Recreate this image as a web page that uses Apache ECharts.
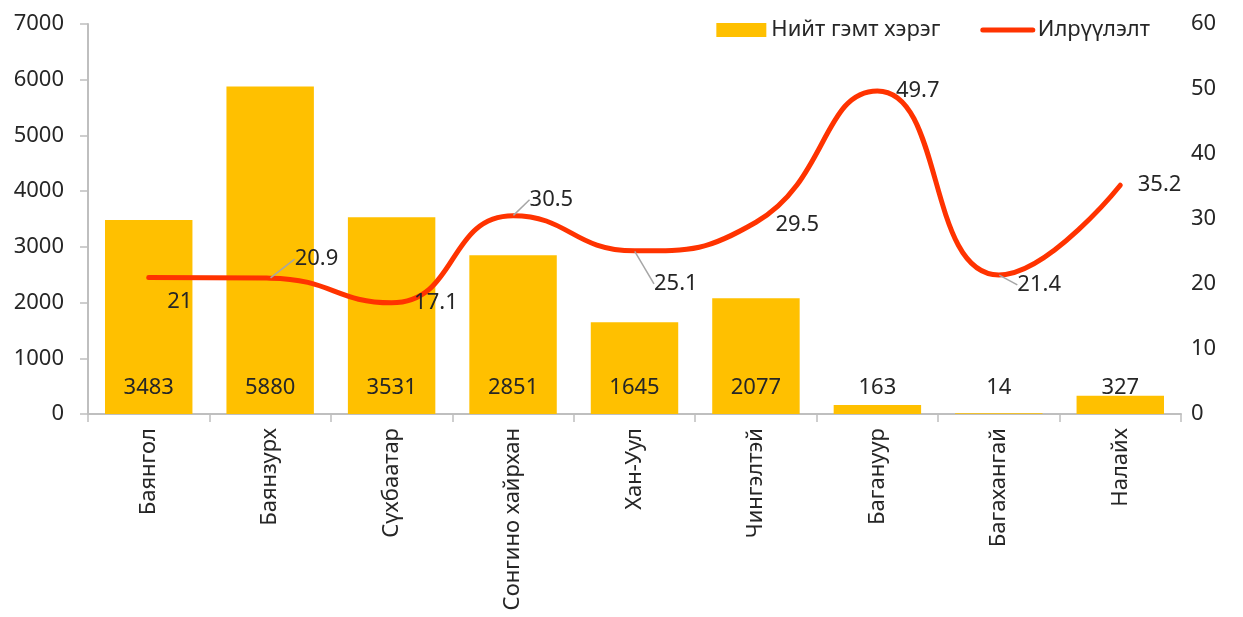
<!DOCTYPE html>
<html>
<head>
<meta charset="utf-8">
<script src="https://cdn.jsdelivr.net/npm/echarts@6/dist/echarts.min.js"></script>
<style>
  html, body { margin: 0; padding: 0; background: #fff; }
  #chart { width: 1243px; height: 617px; }
</style>
</head>
<body>
<div id="chart"></div>
<script>
var categories = ['Баянгол', 'Баянзурх', 'Сүхбаатар', 'Сонгино хайрхан', 'Хан-Уул', 'Чингэлтэй', 'Багануур', 'Багахангай', 'Налайх'];
var crimes = [3483, 5880, 3531, 2851, 1645, 2077, 163, 14, 327];
var detection = [21, 20.9, 17.1, 30.5, 25.1, 29.5, 49.7, 21.4, 35.2];

// label nudges for the line values (dx, dy from 'right' position)
var lineLabelShift = [[14, 24], [20, -19], [18, 0], [12, -16], [15, 33], [15, 2], [14, 0], [14, 10], [13, 0]];
var withLeader = [false, true, false, true, true, false, false, true, false];

(function () {
  var myChart = echarts.init(document.getElementById('chart'));
  var font = 'Noto Sans';
  var txt = '#262626';
  var fs = 22;

  var lineData = detection.map(function (v, i) {
    return { value: v, labelLine: { show: withLeader[i] } };
  });

  var option = {
    animation: false,
    textStyle: { fontFamily: font },
    legend: {
      right: 88,
      top: 14,
      itemGap: 40,
      itemWidth: 50,
      itemHeight: 14,
      textStyle: { fontSize: fs, color: txt, fontFamily: font },
      data: [
        { name: 'Нийт гэмт хэрэг', icon: 'rect' },
        {
          name: 'Илрүүлэлт',
          lineStyle: { width: 5, cap: 'round', color: '#ff3300' },
          itemStyle: { color: 'rgba(0,0,0,0)', borderWidth: 0 }
        }
      ]
    },
    grid: { left: 88, right: 62, top: 24, bottom: 203 },
    xAxis: {
      type: 'category',
      data: categories,
      axisLine: { lineStyle: { color: '#bfbfbf', width: 2 } },
      axisTick: { show: true, length: 8, lineStyle: { color: '#bfbfbf', width: 1.5 } },
      axisLabel: { rotate: 90, fontSize: fs, color: txt, margin: 14, fontFamily: font }
    },
    yAxis: [
      {
        type: 'value',
        min: 0,
        max: 7000,
        interval: 1000,
        splitLine: { show: false },
        axisLine: { show: true, lineStyle: { color: '#bfbfbf', width: 2 } },
        axisTick: { show: true, length: 8, lineStyle: { color: '#bfbfbf', width: 1.5 } },
        axisLabel: {
          fontSize: fs, color: txt, margin: 24, fontFamily: font,
          formatter: function (v) { return String(v); }
        }
      },
      {
        type: 'value',
        min: 0,
        max: 60,
        interval: 10,
        splitLine: { show: false },
        axisLine: { show: false },
        axisTick: { show: false },
        axisLabel: { fontSize: fs, color: txt, margin: 10, fontFamily: font }
      }
    ],
    series: [
      {
        name: 'Нийт гэмт хэрэг',
        type: 'bar',
        data: crimes,
        barCategoryGap: '28%',
        itemStyle: { color: '#ffc000' },
        label: {
          show: true,
          position: 'insideBottom',
          distance: 15,
          fontSize: fs,
          color: txt,
          fontFamily: font
        }
      },
      {
        name: 'Илрүүлэлт',
        type: 'line',
        yAxisIndex: 1,
        data: lineData,
        smooth: 0.5,
        symbol: 'circle',
        symbolSize: 1,
        showSymbol: true,
        lineStyle: { color: '#ff3300', width: 5, cap: 'round' },
        itemStyle: { color: 'rgba(255,51,0,0)' },
        label: {
          show: true,
          position: 'right',
          distance: 4,
          fontSize: fs,
          color: txt,
          fontFamily: font
        },
        labelLine: {
          show: true,
          lineStyle: { color: '#a6a6a6', width: 1.5 }
        },
        labelLayout: function (p) {
          var s = lineLabelShift[p.dataIndex];
          return { dx: s[0], dy: s[1], hideOverlap: false };
        },
        z: 5
      }
    ]
  };

  myChart.setOption(option);
  window.addEventListener('resize', function () {
    myChart.resize();
  });
})();
</script>
</body>
</html>
